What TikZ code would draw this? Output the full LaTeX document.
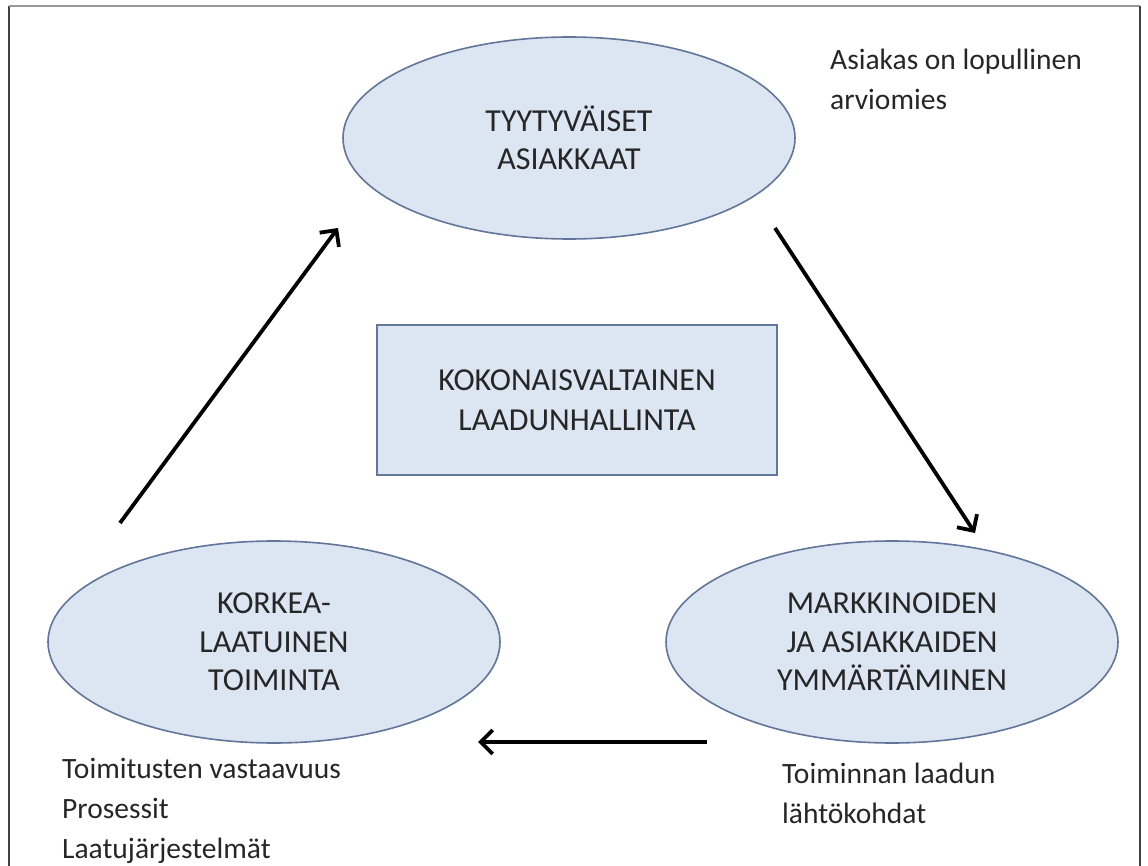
\documentclass[tikz,border=0pt]{standalone}
\usepackage{fontspec}
\setmainfont{Carlito}
\usetikzlibrary{shapes.geometric,arrows.meta}
\definecolor{shapefill}{HTML}{DCE6F2}
\definecolor{shapeline}{HTML}{62759A}
\definecolor{txt}{HTML}{262626}
\tikzset{
  oval/.style={ellipse, draw=shapeline, line width=1.6pt, fill=shapefill,
    minimum width=452pt, minimum height=202pt, inner sep=0pt, align=center,
    text=txt, font=\fontsize{32}{38.5}\selectfont},
  centerbox/.style={rectangle, draw=shapeline, line width=1.8pt, fill=shapefill,
    minimum width=400pt, minimum height=150pt, inner sep=0pt, align=center,
    text=txt, font=\fontsize{32}{39.5}\selectfont},
  note/.style={anchor=base west, inner sep=0pt, align=left, text=txt,
    font=\fontsize{29.5}{40}\selectfont},
  flow/.style={line width=3.8pt, -{Straight Barb[length=12pt,width=24pt]}},
  frameline/.style={line width=2pt, draw=#1}
}
\begin{document}
\begin{tikzpicture}[x=1pt,y=-1pt]
\useasboundingbox (0,0) rectangle (1148,866);
% frame
\coordinate (fbl) at (9,870);
\coordinate (ftl) at (9,6);
\coordinate (ftr) at (1140,6);
\coordinate (fbr) at (1140,870);
\draw[frameline={black!75}] (fbl) -- (ftl);
\draw[frameline={black!40}] (ftl) -- (ftr);
\draw[frameline={black!75}] (ftr) -- (fbr);

% shapes
\node[oval] (top) at (569,138) {TYYTYVÄISET\\ASIAKKAAT};
\node[oval] (left) at (274,642) {KORKEA-\\LAATUINEN\\TOIMINTA};
\node[oval] (right) at (892,642) {MARKKINOIDEN\\JA ASIAKKAIDEN\\YMMÄRTÄMINEN};
\node[centerbox] (mid) at (577,400) {KOKONAISVALTAINEN\\LAADUNHALLINTA};

% notes (base anchor = baseline of the last line)
\node[note] (n1) at (830,110) {Asiakas on lopullinen\\arviomies};
\node[note] (n2) at (62,858) {Toimitusten vastaavuus\\Prosessit\\Laatujärjestelmät};
\node[note] (n3) at (782,823) {Toiminnan laadun\\lähtökohdat};

% arrows
\coordinate (a1s) at (120,523);
\coordinate (a1e) at (338,228);
\coordinate (a2s) at (775,228);
\coordinate (a2e) at (975,533);
\coordinate (a3s) at (707,742);
\coordinate (a3e) at (478,742);
\draw[flow] (a1s) -- (a1e);
\draw[flow] (a2s) -- (a2e);
\draw[flow] (a3s) -- (a3e);
\end{tikzpicture}
\end{document}
